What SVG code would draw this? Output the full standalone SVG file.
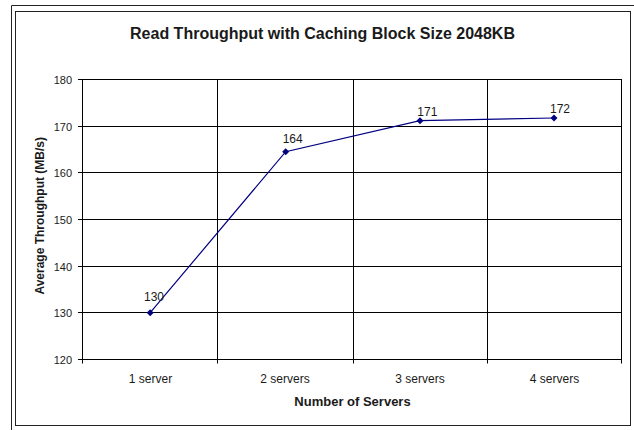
<svg xmlns="http://www.w3.org/2000/svg" width="634" height="430" viewBox="0 0 634 430">
<style>
text{font-family:"Liberation Sans",Arial,sans-serif;fill:#1a1a1a}
.tick{font-size:11px;text-anchor:end}
.cat{font-size:12px;text-anchor:middle}
.dl{font-size:12px;text-anchor:middle}
.grid{stroke:#000;stroke-width:1;fill:none}
.frame{stroke:#222;stroke-width:1;fill:none}
.pt{fill:#000080}
</style>
<defs>
<path id="dia" d="M0,-3.5 L3.5,0 L0,3.5 L-3.5,0 Z" class="pt"/>
</defs>
<rect width="634" height="430" fill="#fff"/>
<g id="frame">
<path class="frame" d="M634,5.5 H11.5 V430"/>
<rect class="frame" x="15.5" y="11.5" width="615" height="414" stroke="#000"/>
</g>
<text id="title" x="322.5" y="39.3" font-size="16" font-weight="bold" text-anchor="middle">Read Throughput with Caching Block Size 2048KB</text>
<g id="plot">
<rect class="grid" x="82.5" y="79.5" width="539" height="280"/>
<path class="grid" d="M82.5,126.5H621.5M82.5,172.5H621.5M82.5,219.5H621.5M82.5,266.5H621.5M82.5,312.5H621.5"/>
<path class="grid" d="M217.5,79.5V363.5M353.5,79.5V363.5M487.5,79.5V363.5M621.5,79.5V363.5M82.5,359.5V363.5"/>
<path class="grid" d="M78,79.5H82.5M78,126.5H82.5M78,172.5H82.5M78,219.5H82.5M78,266.5H82.5M78,312.5H82.5M78,359.5H82.5"/>
</g>
<g id="y-axis">
<text class="tick" x="72" y="84">180</text>
<text class="tick" x="72" y="130.8">170</text>
<text class="tick" x="72" y="177.3">160</text>
<text class="tick" x="72" y="224">150</text>
<text class="tick" x="72" y="270.7">140</text>
<text class="tick" x="72" y="317.3">130</text>
<text class="tick" x="72" y="364">120</text>
<text transform="translate(43.5,215.8) rotate(-90)" font-size="12" font-weight="bold" text-anchor="middle">Average Throughput (MB/s)</text>
</g>
<g id="x-axis">
<text class="cat" x="150.5" y="382.7">1 server</text>
<text class="cat" x="285" y="382.7">2 servers</text>
<text class="cat" x="420" y="382.7">3 servers</text>
<text class="cat" x="554.5" y="382.7">4 servers</text>
<text x="352.5" y="406" font-size="13" font-weight="bold" text-anchor="middle">Number of Servers</text>
</g>
<g id="connectors">
<polyline points="150.2,312.7 285.7,151.7 420,120.7 554,118" fill="none" stroke="#000080" stroke-width="1.2"/>
</g>
<g id="p1"><use href="#dia" x="150.2" y="312.7"/><text class="dl" x="154" y="300.7">130</text></g>
<g id="p2"><use href="#dia" x="285.7" y="151.7"/><text class="dl" x="292.7" y="142.7">164</text></g>
<g id="p3"><use href="#dia" x="420" y="120.7"/><text class="dl" x="427.3" y="116">171</text></g>
<g id="p4"><use href="#dia" x="554" y="118"/><text class="dl" x="560" y="113.3">172</text></g>
</svg>
